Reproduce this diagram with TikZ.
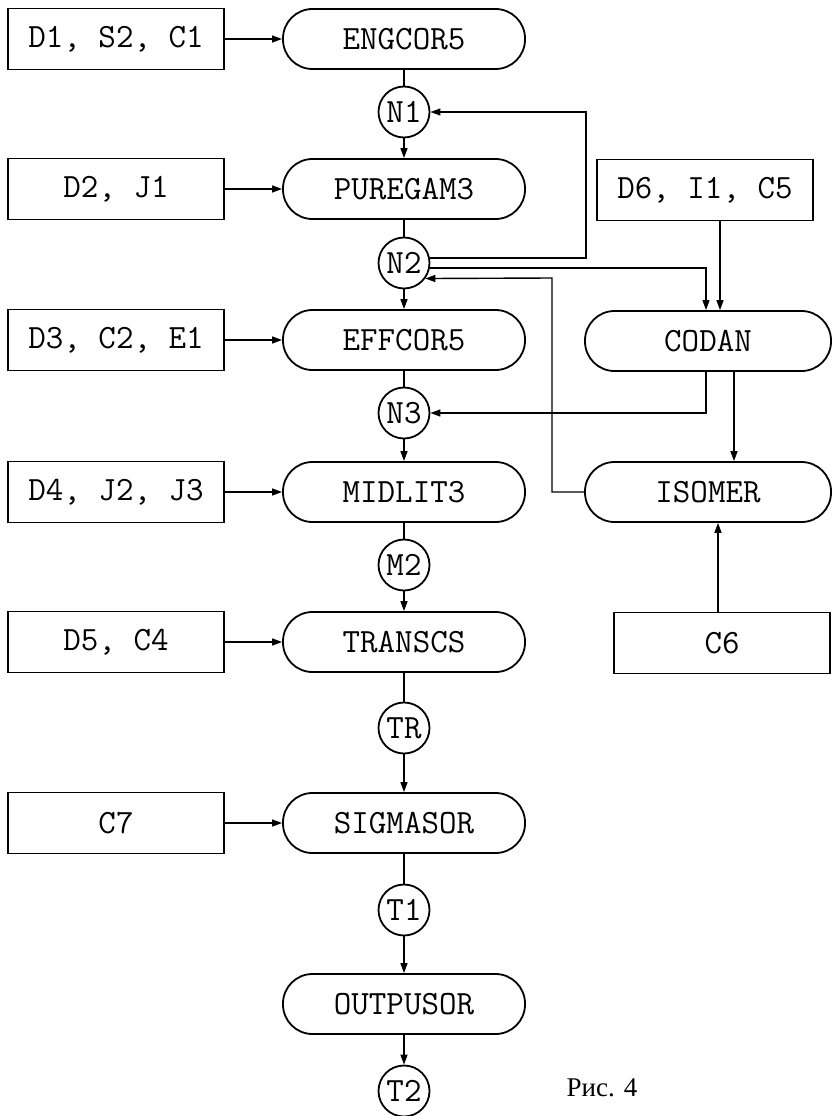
\documentclass[tikz,border=0pt]{standalone}
\usepackage{fontspec}
\newfontfamily\cyr{Liberation Serif}
\usetikzlibrary{arrows.meta,calc}
\tikzset{
  base/.style={font=\fontsize{34}{40}\selectfont\ttfamily, line width=1.8pt, draw, inner sep=0pt},
  inbox/.style={base, rectangle, minimum width=216pt, minimum height=61pt},
  pill/.style={base, rectangle, rounded corners=29.5pt, minimum width=242pt, minimum height=60pt},
  rpill/.style={pill, minimum width=246pt},
  junc/.style={base, circle, minimum size=51pt},
  conn/.style={line width=1.4pt},
  arr/.style={conn, -{Triangle[length=10pt,width=7pt]}},
}
\begin{document}
\begin{tikzpicture}[x=1pt,y=-1pt]
\fill[white] (0,0) rectangle (832,1116);
\useasboundingbox (0,0) rectangle (832,1116);
% main column
\node[pill] (engcor) at (404,39) {ENGCOR5};
\node[junc] (n1) at (404,112) {N1};
\node[pill] (puregam) at (404,189) {PUREGAM3};
\node[junc] (n2) at (404,263) {N2};
\node[pill] (effcor) at (404,340) {EFFCOR5};
\node[junc] (n3) at (404,413) {N3};
\node[pill] (midlit) at (404,492) {MIDLIT3};
\node[junc] (m2) at (404,565) {M2};
\node[pill] (transcs) at (404,642) {TRANSCS};
\node[junc] (tr) at (404,728) {TR};
\node[pill] (sigma) at (404,823) {SIGMASOR};
\node[junc] (t1) at (404,910) {T1};
\node[pill] (outpu) at (404,1004) {OUTPUSOR};
\node[junc] (t2) at (404,1091) {T2};
% left inputs
\node[inbox] (d1) at (116,39) {D1, S2, C1};
\node[inbox] (d2) at (116,189) {D2, J1};
\node[inbox] (d3) at (116,340) {D3, C2, E1};
\node[inbox] (d4) at (116,492) {D4, J2, J3};
\node[inbox] (d5) at (116,642) {D5, C4};
\node[inbox] (c7) at (116,823) {C7};
% right column
\node[inbox] (d6) at (705,190) {D6, I1, C5};
\node[rpill] (codan) at (708,341) {CODAN};
\node[rpill] (isomer) at (708,492) {ISOMER};
\node[inbox] (c6) at (722,643) {C6};
% caption
\node[font=\cyr\fontsize{27}{30}\selectfont, inner sep=0pt] (cap) at (602,1088) {Рис. 4};
% main flow
\draw[conn] (engcor) -- (n1);
\draw[arr] (n1) -- (puregam);
\draw[conn] (puregam) -- (n2);
\draw[arr] (n2) -- (effcor);
\draw[conn] (effcor) -- (n3);
\draw[arr] (n3) -- (midlit);
\draw[conn] (midlit) -- (m2);
\draw[arr] (m2) -- (transcs);
\draw[conn] (transcs) -- (tr);
\draw[arr] (tr) -- (sigma);
\draw[conn] (sigma) -- (t1);
\draw[arr] (t1) -- (outpu);
\draw[arr] (outpu) -- (t2);
% inputs
\draw[arr] (d1) -- (engcor);
\draw[arr] (d2) -- (puregam);
\draw[arr] (d3) -- (effcor);
\draw[arr] (d4) -- (midlit);
\draw[arr] (d5) -- (transcs);
\draw[arr] (c7) -- (sigma);
% feedback and side links
\coordinate (k1) at (586,112);
\coordinate (k3) at (552,278);
\draw[arr] (n2.11) -| (k1) -- (n1.east);
\draw[arr] (n2.-11) -| ($(codan.north)+(-2,0)$);
\draw[arr] ($(d6.south)+(15,0)$) -- ($(codan.north)+(12,0)$);
\draw[arr] ($(codan.south)+(-2,0)$) |- (n3.east);
\draw[arr] ($(codan.south)+(26,0)$) -- ($(isomer.north)+(26,0)$);
\draw[arr] ($(c6.north)+(-4,0)$) -- ($(isomer.south)+(10,0)$);
\draw[arr] (isomer.west) -| (k3) -- (n2.-36);
\end{tikzpicture}
\end{document}
